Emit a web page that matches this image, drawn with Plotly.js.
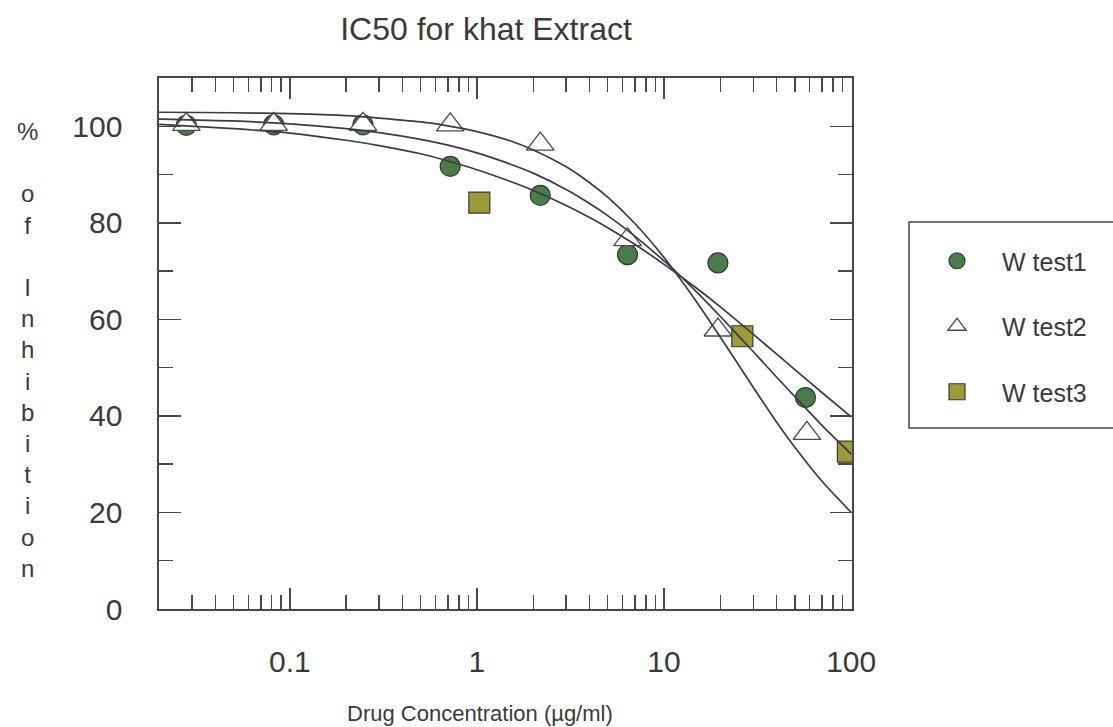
<!DOCTYPE html>
<html>
<head>
<meta charset="utf-8">
<script src="https://cdn.plot.ly/plotly-3.0.1.min.js"></script>
<style>
  html, body { margin: 0; padding: 0; background: #ffffff; }
  #chart { width: 1113px; height: 727px; }
</style>
</head>
<body>
<div id="chart"></div>
<script>
// ---- data ----
const seriesNames = ["W test1", "W test2", "W test3"];

const test1X = [0.028, 0.082, 0.246, 0.72, 2.18, 6.38, 19.4, 57];
const test1Y = [100.2, 100.3, 100.3, 91.7, 85.7, 73.4, 71.7, 43.8];

const test2X = [0.028, 0.082, 0.246, 0.72, 2.18, 6.38, 19.4, 58];
const test2Y = [100.4, 100.4, 100.4, 100.3, 96.3, 76.5, 57.8, 36.4];

const test3X = [1.03, 26.2, 96];
const test3Y = [84.2, 56.5, 32.6];

// fitted curves
const curveX  = [0.02, 0.05, 0.1, 0.2, 0.3, 0.5, 0.7, 1, 1.5, 2, 3, 4, 5, 7, 10, 15, 20, 30, 40, 50, 70, 100];
const curve1Y = [100.4, 99.5, 98.6, 97.1, 96.0, 94.3, 92.8, 91.0, 88.6, 86.7, 83.6, 81.1, 79.0, 75.5, 71.4, 66.4, 62.6, 56.9, 52.8, 49.6, 44.8, 39.8];
const curve2Y = [102.9, 102.8, 102.6, 102.2, 101.7, 100.9, 100.1, 98.9, 97.0, 95.1, 91.6, 88.3, 85.3, 79.8, 72.8, 63.5, 56.3, 45.9, 38.7, 33.5, 26.4, 20.0];
const curve3Y = [101.5, 101.1, 100.5, 99.5, 98.7, 97.3, 96.1, 94.5, 92.2, 90.3, 86.9, 84.0, 81.5, 77.2, 72.1, 65.6, 60.6, 53.3, 48.0, 44.0, 38.0, 32.1];

const xMajorTicks = [0.1, 1, 10, 100];
const xMajorLabels = ["0.1", "1", "10", "100"];
const xMinorTicks = [0.03, 0.04, 0.05, 0.06, 0.07, 0.08, 0.09,
                     0.2, 0.3, 0.4, 0.5, 0.6, 0.7, 0.8, 0.9,
                     2, 3, 4, 5, 6, 7, 8, 9,
                     20, 30, 40, 50, 60, 70, 80, 90];
const yMajorTicks = [0, 20, 40, 60, 80, 100];

const titleText = "IC50 for khat Extract";
const xTitleText = "Drug Concentration (µg/ml)";
const yTitleLetters = ["%", "\u00a0", "o", "f", "\u00a0", "I", "n", "h", "i", "b", "i", "t", "i", "o", "n"];

// ---- styling ----
const FONT = "Liberation Sans, Arial, sans-serif";
const TXT = "#3a3a3a";
const AX = "#4a4658";
const LINEC = "#3c3a46";

// plot-area geometry in pixels
const W = 1113, H = 727;
const L = 159, R = 852, T = 78, B = 609;
const pw = R - L, ph = B - T;
const px2x = p => (p - L) / pw;
const py2y = p => (B - p) / ph;

const curveStyle = { color: LINEC, width: 1.7, shape: "spline", smoothing: 0.6 };

const traces = [
  { x: test1X, y: test1Y, name: seriesNames[0], mode: "markers", type: "scatter",
    legendgroup: "a",
    marker: { symbol: "circle", size: 20, color: "#4b7b4b", line: { color: "#2c3e2c", width: 1.2 } } },
  { x: test2X, y: test2Y, name: seriesNames[1], mode: "markers", type: "scatter",
    legendgroup: "b",
    marker: { symbol: "triangle-up", size: 24, color: "#ffffff", line: { color: "#4a4a55", width: 1.3 } } },
  { x: test3X, y: test3Y, name: seriesNames[2], mode: "markers", type: "scatter",
    legendgroup: "c",
    marker: { symbol: "square", size: 21, color: "#9d9a3c", line: { color: "#3d3b2d", width: 1.2 } } },
  { x: curveX, y: curve1Y, mode: "lines", type: "scatter", showlegend: false, hoverinfo: "skip", line: curveStyle },
  { x: curveX, y: curve2Y, mode: "lines", type: "scatter", showlegend: false, hoverinfo: "skip", line: curveStyle },
  { x: curveX, y: curve3Y, mode: "lines", type: "scatter", showlegend: false, hoverinfo: "skip", line: curveStyle }
];

const layout = {
  width: W, height: H,
  margin: { l: L, r: W - R, t: T, b: H - B, pad: 0 },
  paper_bgcolor: "#ffffff",
  plot_bgcolor: "#ffffff",
  font: { family: FONT, color: TXT },
  showlegend: true,
  title: {
    text: titleText,
    font: { family: FONT, size: 32, color: TXT },
    xref: "container", yref: "container",
    x: 486 / W, xanchor: "center",
    y: 1 - 29 / H, yanchor: "middle"
  },
  xaxis: {
    type: "log",
    range: [Math.log10(0.02), Math.log10(101)],
    tickmode: "array",
    tickvals: xMajorTicks,
    ticktext: xMajorLabels,
    ticks: "inside", ticklen: 21, tickwidth: 1.5, tickcolor: AX,
    minor: { tickmode: "array", tickvals: xMinorTicks, ticks: "inside", ticklen: 14, tickwidth: 1.5, tickcolor: AX, showgrid: false },
    showline: true, linecolor: AX, linewidth: 1.6, mirror: "ticks",
    showgrid: false, zeroline: false,
    tickfont: { family: FONT, size: 30, color: TXT },
    ticklabelstandoff: 25,
    fixedrange: true
  },
  yaxis: {
    range: [0, 110],
    tickmode: "array",
    tickvals: yMajorTicks,
    ticks: "inside", ticklen: 22, tickwidth: 1.5, tickcolor: AX,
    minor: { dtick: 10, tick0: 0, ticks: "inside", ticklen: 14, tickwidth: 1.5, tickcolor: AX, showgrid: false },
    showline: true, linecolor: AX, linewidth: 1.6, mirror: "ticks",
    showgrid: false, zeroline: false,
    tickfont: { family: FONT, size: 30, color: TXT },
    ticklabelstandoff: 29,
    fixedrange: true
  },
  legend: {
    x: px2x(912), xanchor: "left",
    y: py2y(238), yanchor: "top",
    bgcolor: "rgba(0,0,0,0)",
    borderwidth: 0,
    font: { family: FONT, size: 25, color: TXT },
    traceorder: "grouped",
    tracegroupgap: 30,
    itemwidth: 80
  },
  shapes: [
    { type: "rect", xref: "paper", yref: "paper",
      x0: px2x(909), x1: px2x(1130), y0: py2y(428), y1: py2y(222),
      line: { color: AX, width: 1.5 }, fillcolor: "rgba(0,0,0,0)", layer: "below" }
  ],
  annotations: [
    { text: xTitleText, xref: "paper", yref: "paper",
      x: px2x(480), y: py2y(713), xanchor: "center", yanchor: "middle",
      showarrow: false, font: { family: FONT, size: 22, color: TXT } },
    { text: yTitleLetters.join("<br>"), xref: "paper", yref: "paper",
      x: px2x(27), y: py2y(350), xanchor: "center", yanchor: "middle",
      showarrow: false, align: "center", font: { family: FONT, size: 24, color: TXT } }
  ]
};

Plotly.newPlot("chart", traces, layout, { displayModeBar: false, staticPlot: true });
</script>
</body>
</html>
